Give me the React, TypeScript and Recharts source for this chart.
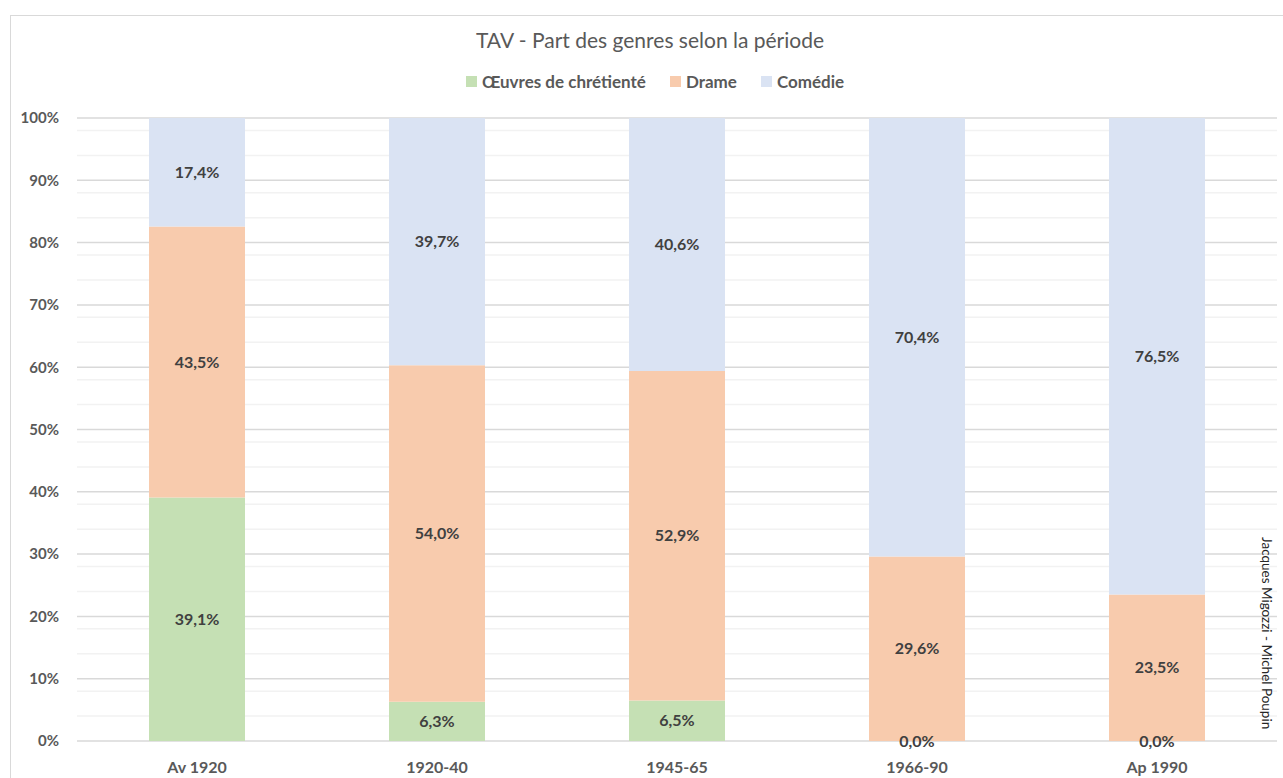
import React from 'react';
import { BarChart, Bar, XAxis, YAxis, CartesianGrid, LabelList } from 'recharts';

const periods = ['Av 1920', '1920-40', '1945-65', '1966-90', 'Ap 1990'];
const chretiente = [39.1, 6.3, 6.5, 0.0, 0.0];
const drame = [43.5, 54.0, 52.9, 29.6, 23.5];
const comedie = [17.4, 39.7, 40.6, 70.4, 76.5];

const majorTicks = [0, 10, 20, 30, 40, 50, 60, 70, 80, 90, 100];
const minorTicks = [2, 4, 6, 8, 12, 14, 16, 18, 22, 24, 26, 28, 32, 34, 36, 38, 42, 44, 46, 48, 52, 54, 56, 58, 62, 64, 66, 68, 72, 74, 76, 78, 82, 84, 86, 88, 92, 94, 96, 98];

const series = [
  { key: 'chretiente', name: 'Œuvres de chrétienté', color: '#C5E0B4' },
  { key: 'drame', name: 'Drame', color: '#F8CBAD' },
  { key: 'comedie', name: 'Comédie', color: '#DAE3F3' },
];

const data = periods.map((p, i) => ({
  name: p,
  chretiente: chretiente[i],
  drame: drame[i],
  comedie: comedie[i],
}));

const FONT = 'Lato, "Open Sans", sans-serif';

const fmt = (v: any) => `${Number(v).toFixed(1).replace('.', ',')}%`;

const App: React.FC = () => {
  return (
    <div
      style={{
        position: 'absolute',
        left: 10,
        top: 15,
        width: 1290,
        height: 780,
        border: '1px solid #D9D9D9',
        boxSizing: 'border-box',
        background: '#fff',
        fontFamily: FONT,
      }}
    >
      <div style={{ position: 'absolute', left: 0, width: 1278, top: 11, textAlign: 'center', fontSize: 21, color: '#595959' }}>
        TAV - Part des genres selon la période
      </div>
      <div
        style={{
          position: 'absolute',
          left: 0,
          width: 1288,
          top: 55,
          display: 'flex',
          justifyContent: 'center',
          gap: 24,
          fontWeight: 700,
          fontSize: 17,
          color: '#595959',
        }}
      >
        {series.map(s => (
          <div key={s.key} style={{ display: 'flex', alignItems: 'center' }}>
            <span style={{ display: 'inline-block', width: 11, height: 11, background: s.color, marginRight: 5 }} />
            {s.name}
          </div>
        ))}
      </div>
      <BarChart
        width={1272}
        height={762}
        data={data}
        margin={{ top: 102, right: 6, left: 0, bottom: 7 }}
        barCategoryGap="30%"
      >
        <CartesianGrid horizontalValues={minorTicks} vertical={false} stroke="#F2F2F2" strokeWidth={1.5} />
        <CartesianGrid horizontalValues={majorTicks} vertical={false} stroke="#D9D9D9" strokeWidth={1.5} />
        <XAxis
          dataKey="name"
          axisLine={false}
          tickLine={false}
          height={30}
          tickMargin={15}
          tick={{ fill: '#595959', fontSize: 16, fontWeight: 700, fontFamily: FONT }}
        />
        <YAxis
          type="number"
          domain={[0, 100]}
          ticks={majorTicks}
          axisLine={false}
          tickLine={false}
          width={66}
          tickMargin={12}
          tickFormatter={(v: number) => `${v}%`}
          tick={{ fill: '#595959', fontSize: 15, fontWeight: 700, fontFamily: FONT }}
        />
        {series.map(s => (
          <Bar key={s.key} dataKey={s.key} name={s.name} stackId="a" fill={s.color} minPointSize={0.01} isAnimationActive={false}>
            <LabelList
              dataKey={s.key}
              position="center"
              formatter={fmt}
              style={{ fill: '#404040', fontSize: 16, fontWeight: 700, fontFamily: FONT }}
            />
          </Bar>
        ))}
      </BarChart>
      <div
        style={{
          position: 'absolute',
          left: 1248,
          top: 521,
          writingMode: 'vertical-rl',
          fontSize: 13.5,
          color: '#262626',
          whiteSpace: 'nowrap',
        }}
      >
        Jacques Migozzi - Michel Poupin
      </div>
    </div>
  );
};

export default App;
